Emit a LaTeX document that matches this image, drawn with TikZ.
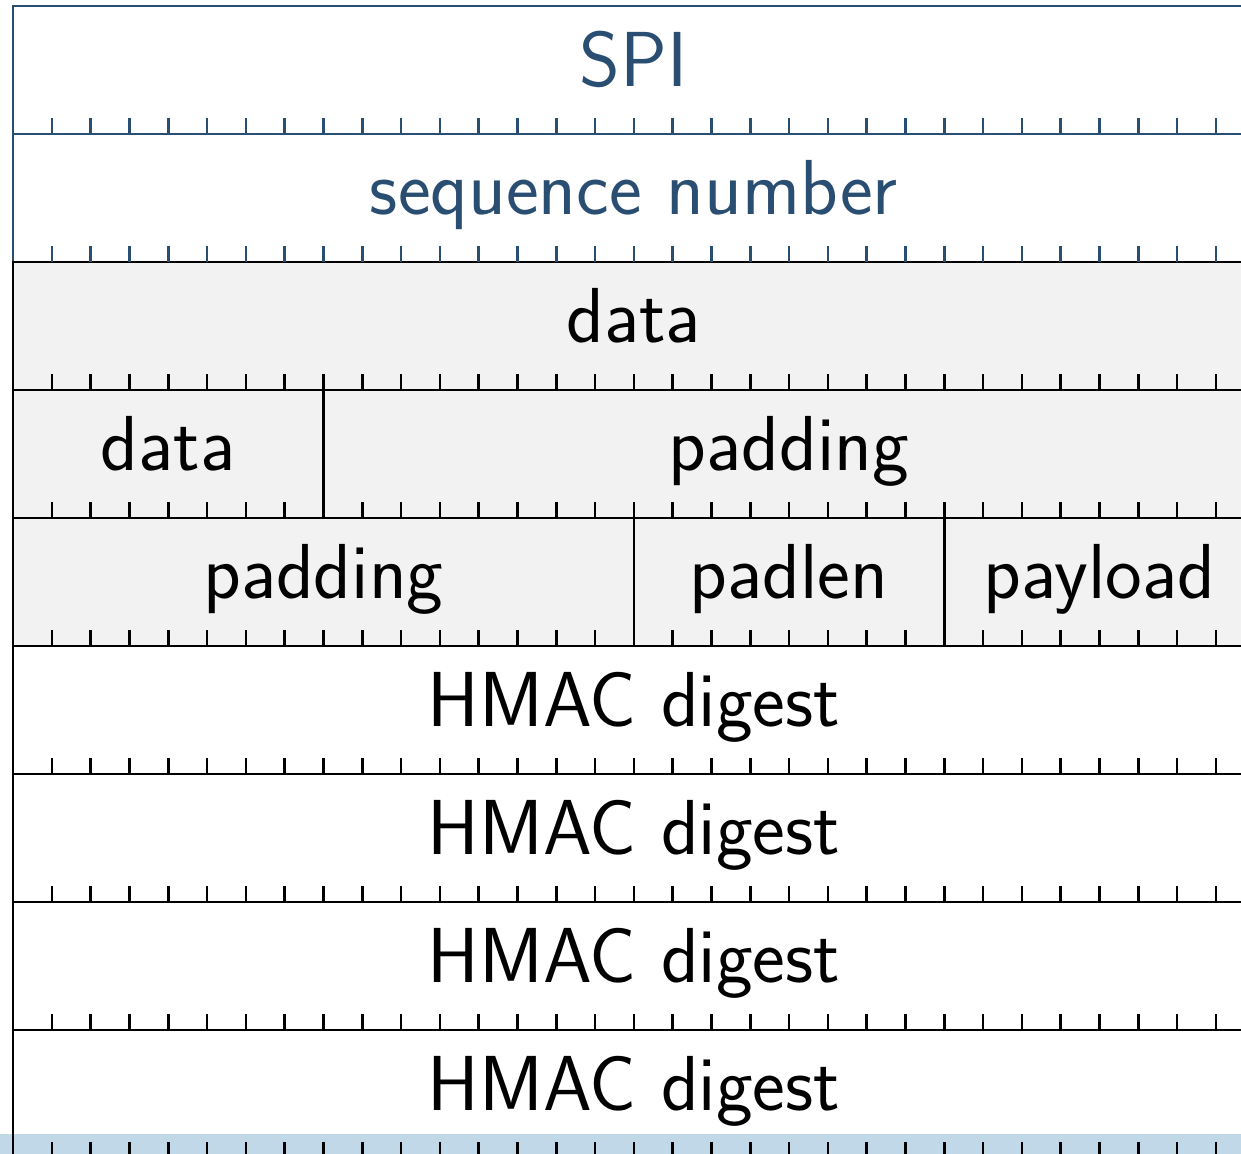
\documentclass[tikz,border=0pt]{standalone}
\usepackage{fontspec}
\definecolor{hdrblue}{HTML}{2A4D72}
\definecolor{fieldgray}{HTML}{F2F2F2}
\definecolor{bandblue}{HTML}{C0D8E8}
\begin{document}
\begin{tikzpicture}[x=0.5pt,y=-0.5pt,
  field/.style={draw, line width=1.3pt, minimum height=64pt, inner sep=0pt,
    text height=26.7pt, text depth=10pt, font=\fontsize{39}{46}\selectfont\sffamily},
  hdr/.style={field, draw=hdrblue, text=hdrblue},
  body/.style={field, fill=fieldgray},
  w32/.style={minimum width=620.8pt},
  w24/.style={minimum width=465.6pt},
  w16/.style={minimum width=310.4pt},
  w8/.style={minimum width=155.2pt},
  bittick/.style={line width=1.3pt}]
\useasboundingbox (0,0) rectangle (1241,1154);
% highlighted band along the lower edge
\fill[bandblue] (0,1134) rectangle (1241,1160);
% header words
\node[hdr,w32] (spi) at (633.8,70) {SPI};
\node[hdr,w32] (seq) at (633.8,198) {sequence\hspace{0.32em}number};
% encrypted payload words
\node[body,w32] (data1) at (633.8,326) {data};
\node[body,w8] (data2) at (168.2,454) {data};
\node[body,w24] (pad1) at (789.0,454) {padding};
\node[body,w16] (pad2) at (323.4,582) {padding};
\node[body,w8] (padlen) at (789.0,582) {padlen};
\node[body,w8] (payload) at (1099.4,582) {payload};
% authentication words
\node[field,w32] (hmac1) at (633.8,710) {HMAC digest};
\node[field,w32] (hmac2) at (633.8,838) {HMAC digest};
\node[field,w32] (hmac3) at (633.8,966) {HMAC digest};
\node[field,w32] (hmac4) at (633.8,1094) {HMAC digest};
% bit ticks along the bottom of every word
\foreach \r in {0,...,8}{
  \pgfmathsetmacro\yb{134+128*\r}
  \ifnum\r<2 \def\tc{hdrblue}\else\def\tc{black}\fi
  \foreach \i in {1,...,31}{
    \draw[bittick,draw=\tc] ({13+38.8*\i},\yb) -- ++(0,-16);
  }
}
\end{tikzpicture}
\end{document}
